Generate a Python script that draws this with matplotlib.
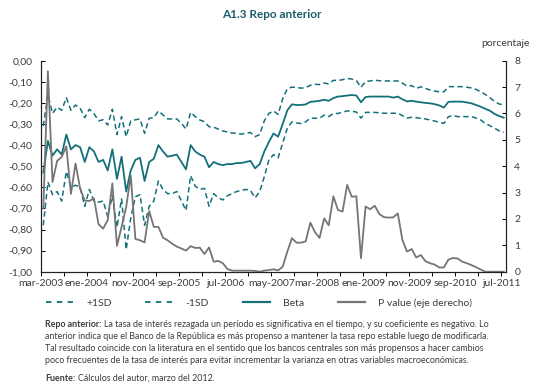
import numpy as np
import matplotlib.pyplot as plt
from matplotlib.lines import Line2D

plt.rcParams['font.family'] = ['Lato', 'DejaVu Sans']

# colores
teal = '#13707a'
gris = '#757575'
texto = '#3c3c3c'

# etiquetas del eje x (cada 10 meses, mar-2003 a jul-2011)
etiquetas_x = ['mar-2003', 'ene-2004', 'nov-2004', 'sep-2005', 'jul-2006', 'may-2007',
               'mar-2008', 'ene-2009', 'nov-2009', 'sep-2010', 'jul-2011']

# series mensuales (101 meses)
sd_sup = [-0.31, -0.16, -0.25, -0.22, -0.235, -0.175, -0.235, -0.21, -0.225, -0.27,
          -0.23, -0.25, -0.285, -0.28, -0.305, -0.23, -0.35, -0.265, -0.36, -0.285,
          -0.28, -0.276, -0.344, -0.273, -0.27, -0.238, -0.257, -0.276, -0.276, -0.276,
          -0.297, -0.324, -0.245, -0.265, -0.281, -0.289, -0.313, -0.315, -0.324, -0.333,
          -0.338, -0.343, -0.344, -0.348, -0.344, -0.34, -0.36, -0.35, -0.285, -0.25,
          -0.238, -0.255, -0.18, -0.133, -0.125, -0.127, -0.13, -0.128, -0.116, -0.112,
          -0.113, -0.106, -0.11, -0.093, -0.094, -0.09, -0.084, -0.087, -0.094, -0.126,
          -0.099, -0.096, -0.092, -0.095, -0.096, -0.096, -0.096, -0.096, -0.106, -0.121,
          -0.118, -0.131, -0.124, -0.131, -0.139, -0.144, -0.147, -0.148, -0.123, -0.123,
          -0.123, -0.123, -0.126, -0.129, -0.136, -0.147, -0.16, -0.175, -0.193, -0.205,
          -0.21]

beta = [-0.53, -0.38, -0.45, -0.42, -0.445, -0.35, -0.42, -0.40, -0.41, -0.48,
        -0.41, -0.43, -0.48, -0.47, -0.52, -0.42, -0.56, -0.455, -0.62, -0.52,
        -0.47, -0.46, -0.57, -0.48, -0.465, -0.40, -0.43, -0.455, -0.45, -0.445,
        -0.48, -0.515, -0.40, -0.43, -0.445, -0.455, -0.505, -0.48, -0.49, -0.495,
        -0.49, -0.49, -0.485, -0.485, -0.48, -0.475, -0.51, -0.49, -0.43, -0.385,
        -0.345, -0.36, -0.30, -0.235, -0.207, -0.21, -0.21, -0.207, -0.195, -0.193,
        -0.19, -0.185, -0.19, -0.177, -0.17, -0.168, -0.165, -0.163, -0.165, -0.197,
        -0.172, -0.17, -0.17, -0.17, -0.17, -0.17, -0.175, -0.17, -0.183, -0.193,
        -0.19, -0.194, -0.197, -0.2, -0.202, -0.206, -0.212, -0.222, -0.195, -0.194,
        -0.194, -0.194, -0.198, -0.202, -0.21, -0.218, -0.228, -0.237, -0.252, -0.262,
        -0.27]

sd_inf = [-0.78, -0.575, -0.635, -0.62, -0.665, -0.525, -0.60, -0.59, -0.60, -0.69,
          -0.61, -0.665, -0.67, -0.665, -0.74, -0.64, -0.79, -0.655, -0.895, -0.745,
          -0.645, -0.635, -0.78, -0.69, -0.665, -0.57, -0.61, -0.63, -0.63, -0.62,
          -0.665, -0.71, -0.545, -0.595, -0.61, -0.605, -0.69, -0.63, -0.65, -0.66,
          -0.64, -0.63, -0.62, -0.615, -0.61, -0.615, -0.65, -0.62, -0.55, -0.47,
          -0.445, -0.46, -0.39, -0.32, -0.29, -0.295, -0.298, -0.29, -0.272, -0.273,
          -0.272, -0.258, -0.265, -0.25, -0.25, -0.244, -0.238, -0.24, -0.243, -0.272,
          -0.245, -0.245, -0.245, -0.247, -0.249, -0.249, -0.249, -0.249, -0.26, -0.272,
          -0.268, -0.27, -0.273, -0.276, -0.281, -0.286, -0.292, -0.297, -0.265, -0.26,
          -0.265, -0.265, -0.265, -0.265, -0.272, -0.281, -0.297, -0.308, -0.32, -0.332,
          -0.34]

p_value = [2.4, 7.6, 3.4, 4.2, 4.35, 4.75, 2.95, 4.1, 3.15, 2.7,
           2.68, 2.78, 1.8, 1.63, 1.96, 3.35, 0.98, 1.7, 2.45, 3.65,
           1.24, 1.19, 1.11, 2.3, 1.7, 1.7, 1.29, 1.19, 1.06, 0.95,
           0.88, 0.8, 0.97, 0.9, 0.91, 0.67, 0.92, 0.38, 0.41, 0.32,
           0.1, 0.04, 0.04, 0.04, 0.04, 0.04, 0.03, 0.0, 0.04, 0.06,
           0.09, 0.05, 0.19, 0.76, 1.27, 1.1, 1.1, 1.15, 1.86, 1.5,
           1.28, 2.02, 1.76, 2.86, 2.34, 2.28, 3.29, 2.84, 2.86, 0.51,
           2.47, 2.37, 2.5, 2.18, 2.07, 2.05, 2.06, 2.21, 1.2, 0.76,
           0.86, 0.54, 0.63, 0.4, 0.32, 0.27, 0.16, 0.16, 0.46, 0.52,
           0.5, 0.38, 0.32, 0.25, 0.17, 0.08, 0.0, 0.0, 0.0, 0.0,
           0.0]

x = np.arange(len(beta))

fig = plt.figure(figsize=(5.42, 3.91), dpi=100)
ax = fig.add_axes([41 / 542, 1 - 271.7 / 391, 465 / 542, 211 / 391])

guiones = (3.5, 2.2)
ax.plot(x, sd_sup, color=teal, lw=1.1, dashes=guiones)
ax.plot(x, sd_inf, color=teal, lw=1.1, dashes=guiones)
ax.plot(x, beta, color=teal, lw=1.3)

ax2 = ax.twinx()
ax2.plot(x, p_value, color=gris, lw=1.3)

# ejes
ax.set_xlim(-0.5, len(beta) - 0.5)
ax.set_ylim(-1, 0)
ax2.set_ylim(0, 8)

ticks_y = np.round(np.arange(-1, 0.001, 0.1), 2) + 0.0
ax.set_yticks(ticks_y)
ax.set_yticklabels([f'{v:.2f}'.replace('.', ',').replace('-0,00', '0,00') for v in ticks_y])
ax2.set_yticks(range(0, 9))

ax.set_xticks(np.arange(-0.5, len(beta), 10))
ax.set_xticklabels(etiquetas_x)
ax.set_xticks(np.arange(4.5, len(beta), 10), minor=True)

for a in (ax, ax2):
    a.spines['top'].set_visible(False)
    for s in ('left', 'right', 'bottom'):
        a.spines[s].set_color('#222222')
        a.spines[s].set_linewidth(0.8)

ax.tick_params(axis='y', direction='in', length=3, width=0.7, labelsize=7.5,
               labelcolor=texto, pad=6)
ax2.tick_params(axis='y', direction='in', length=3, width=0.7, labelsize=7.5,
                labelcolor=texto, pad=6)
ax.tick_params(axis='x', which='both', direction='out', length=3, width=0.7,
               labelsize=7.5, labelcolor=texto, pad=2)

# titulo y unidades
fig.text(272 / 542, 1 - 15 / 391, 'A1.3 Repo anterior', ha='center', va='center',
         fontsize=8.5, fontweight='bold', color='#1d5d69')
fig.text(530 / 542, 1 - 43 / 391, 'porcentaje', ha='right', va='center',
         fontsize=7.5, color=texto)

# leyenda
handles = [Line2D([], [], color=teal, lw=1.3, dashes=(3, 3)),
           Line2D([], [], color=teal, lw=1.3, dashes=(3, 3)),
           Line2D([], [], color=teal, lw=1.6),
           Line2D([], [], color=gris, lw=1.6)]
labels = ['+1SD', '-1SD', 'Beta', 'P value (eje derecho)']
fig.legend(handles, labels, loc='center', bbox_to_anchor=(259 / 542, 1 - 303 / 391),
           ncol=4, frameon=False, fontsize=7.5, handlelength=2.6,
           columnspacing=3.2, handletextpad=1.3, labelcolor=texto)

# nota al pie
def linea_nota(y, negrita, resto):
    t = fig.text(45 / 542, 1 - y / 391, negrita, fontsize=6.4, fontweight='bold',
                 color=texto, va='baseline')
    fig.add_artist(plt.Annotation(resto, xy=(1, 0), xycoords=t, xytext=(2, 0),
                                  textcoords='offset points', fontsize=6.4,
                                  color=texto, va='bottom'))

linea_nota(327, 'Repo anterior:', 'La tasa de interés rezagada un período es significativa en el tiempo, y su coeficiente es negativo. Lo')
otras = ['anterior indica que el Banco de la República es más propenso a mantener la tasa repo estable luego de modificarla.',
         'Tal resultado coincide con la literatura en el sentido que los bancos centrales son más propensos a hacer cambios',
         'poco frecuentes de la tasa de interés para evitar incrementar la varianza en otras variables macroeconómicas.']
for k, linea in enumerate(otras):
    fig.text(45 / 542, 1 - (339 + 12 * k) / 391, linea, fontsize=6.4, color=texto,
             va='baseline')
linea_nota(381, 'Fuente:', 'Cálculos del autor, marzo del 2012.')

fig.savefig('out.png', dpi=100)
